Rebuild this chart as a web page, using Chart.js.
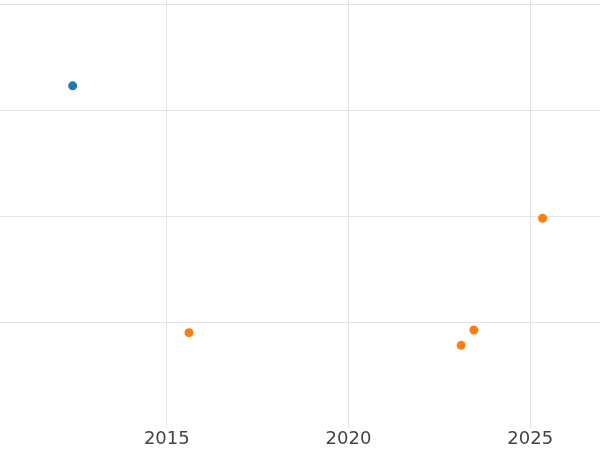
<!DOCTYPE html>
<html>
<head>
<meta charset="utf-8">
<script src="https://cdn.jsdelivr.net/npm/chart.js@4"></script>
<style>
  body { margin: 0; background: #fff; }
  #wrap { width: 600px; height: 450px; }
</style>
</head>
<body>
<div id="wrap"><canvas id="chart" width="600" height="450"></canvas></div>
<script>
// series values
let blueX = [2012.41];
let blueY = [3.23];
let orangeX = [2015.61, 2023.10, 2023.45, 2025.34];
let orangeY = [0.90, 0.78, 0.925, 1.98];
let xTicks = [2015, 2020, 2025];
let yTicks = [1, 2, 3, 4];

function toPoints(xs, ys) {
  let pts = [];
  for (let i = 0; i < xs.length; i++) {
    pts.push({x: xs[i], y: ys[i]});
  }
  return pts;
}

let ctx = document.getElementById('chart').getContext('2d');
let chart = new Chart(ctx, {
  type: 'scatter',
  data: {
    datasets: [
      {label: 'a', data: toPoints(blueX, blueY), backgroundColor: '#1f77b4', borderColor: '#1f77b4', pointRadius: 4.5, borderWidth: 0},
      {label: 'b', data: toPoints(orangeX, orangeY), backgroundColor: '#ff7f0e', borderColor: '#ff7f0e', pointRadius: 4.5, borderWidth: 0}
    ]
  },
  options: {
    responsive: false,
    animation: false,
    layout: {padding: 0, autoPadding: false},
    plugins: {legend: {display: false}, tooltip: {enabled: false}},
    scales: {
      x: {
        type: 'linear',
        min: 2010.41,
        max: 2026.92,
        afterBuildTicks: (axis) => { axis.ticks = xTicks.map(v => ({value: v})); },
        grid: {color: '#e4e4e4', lineWidth: 1, drawTicks: false},
        border: {display: false},
        ticks: {
          padding: 2,
          color: '#444',
          font: {family: 'DejaVu Sans', size: 18, lineHeight: 1},
          callback: (v) => String(v)
        }
      },
      y: {
        type: 'linear',
        min: 0,
        max: 4.04,
        afterBuildTicks: (axis) => { axis.ticks = yTicks.map(v => ({value: v})); },
        grid: {color: '#e4e4e4', lineWidth: 1, drawTicks: false},
        border: {display: false},
        ticks: {display: false}
      }
    }
  }
});
</script>
</body>
</html>
